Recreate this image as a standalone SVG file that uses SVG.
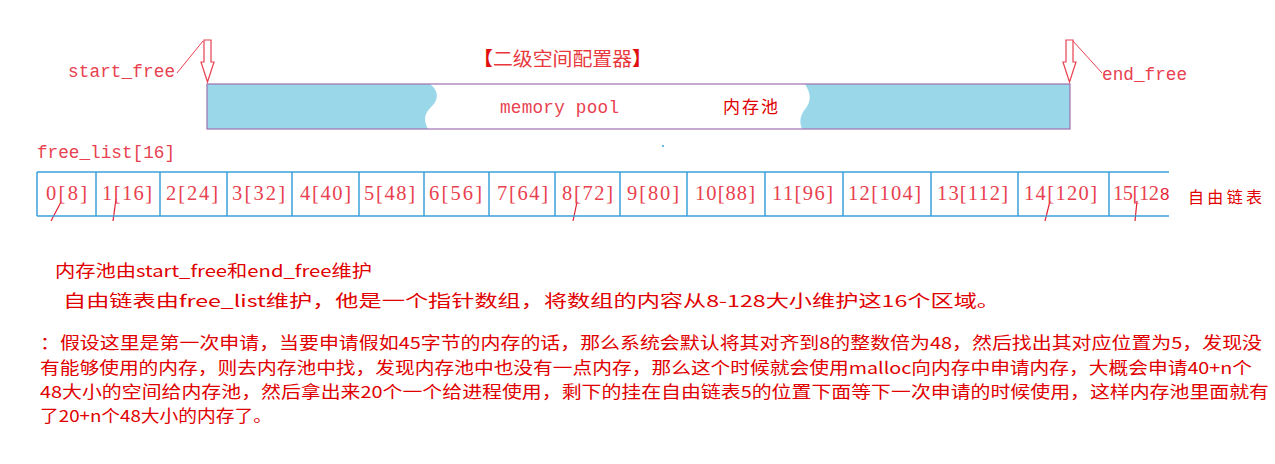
<svg xmlns="http://www.w3.org/2000/svg" width="1275" height="464" viewBox="0 0 1275 464">
<style>
.lbl{font-family:"Liberation Mono",monospace;font-size:17.7px;fill:#E8414F}
.cell{font-family:"Liberation Serif","Noto Sans CJK SC",serif;font-size:20.5px;fill:#E8414F}
.cjk{font-family:"Noto Sans CJK SC",sans-serif;fill:#E00000}
.para{font-family:"Noto Sans CJK SC",sans-serif;font-size:16.5px;fill:#E00000}
.arrow{fill:#fff;stroke:#E84050;stroke-width:1.2}
.lead{stroke:#E84050;stroke-width:1;fill:none}
.tick{stroke:#E02030;stroke-width:1.2}
.grid{stroke:#3AA0D8;stroke-width:1.5}
</style>
<rect width="1275" height="464" fill="#fff"/>

<g id="title">
<text x="473" y="66" font-family="Noto Sans CJK SC,sans-serif" font-size="19" fill="#E8383D" textLength="179" lengthAdjust="spacingAndGlyphs"><tspan font-weight="bold" fill="#E01010">【</tspan>二级空间配置器<tspan font-weight="bold" fill="#E01010">】</tspan></text>
</g>

<g id="memory-pool">
<rect x="207" y="84" width="863" height="45" fill="#9AD7E9"/>
<path d="M430,84 C438,90 439,98 433,105 C426,112 422,118 428,129 L802,129 C799,122 800,115 806,108 C812,100 810,92 805,84 Z" fill="#fff"/>
<rect x="207" y="84" width="863" height="45" fill="none" stroke="#A070B0" stroke-width="1.2"/>
<text x="500" y="113" class="lbl" font-size="18" textLength="119">memory pool</text>
<text x="723" y="113" class="cjk" font-size="17" fill="#D42020" textLength="55">内存池</text>
</g>

<g id="start-free">
<path class="arrow" d="M204,40 L211,40 L211,62 L214,62 L207.5,82 L201,62 L204,62 Z"/>
<text x="68" y="77" class="lbl" textLength="107">start_free</text>
</g>

<g id="end-free">
<path class="arrow" d="M1066,40 L1073,40 L1073,62 L1076,62 L1069.5,82 L1063,62 L1066,62 Z"/>
<text x="1102" y="80" class="lbl" textLength="85">end_free</text>
</g>

<g id="connectors">
<path class="lead" d="M177,73 L203,41"/>
<path class="lead" d="M1073,41 L1102,73"/>
<line class="tick" x1="61" y1="202" x2="51" y2="221"/>
<line class="tick" x1="116" y1="199" x2="113" y2="221"/>
<line class="tick" x1="577" y1="202" x2="573" y2="221"/>
<line class="tick" x1="1050" y1="201" x2="1045" y2="221"/>
<line class="tick" x1="1137" y1="201" x2="1135" y2="221"/>
</g>

<g id="free-list">
<text x="37" y="158" class="lbl" textLength="138">free_list[16]</text>
<line class="grid" x1="37" y1="172" x2="1169" y2="172"/>
<line class="grid" x1="37" y1="216" x2="1169" y2="216"/>
<g class="grid">
<line x1="37" y1="172" x2="37" y2="216"/>
<line x1="96" y1="172" x2="96" y2="216"/>
<line x1="160" y1="172" x2="160" y2="216"/>
<line x1="227" y1="172" x2="227" y2="216"/>
<line x1="292" y1="172" x2="292" y2="216"/>
<line x1="359" y1="172" x2="359" y2="216"/>
<line x1="424" y1="172" x2="424" y2="216"/>
<line x1="489" y1="172" x2="489" y2="216"/>
<line x1="555" y1="172" x2="555" y2="216"/>
<line x1="620" y1="172" x2="620" y2="216"/>
<line x1="687" y1="172" x2="687" y2="216"/>
<line x1="765" y1="172" x2="765" y2="216"/>
<line x1="843" y1="172" x2="843" y2="216"/>
<line x1="931" y1="172" x2="931" y2="216"/>
<line x1="1018" y1="172" x2="1018" y2="216"/>
<line x1="1109" y1="172" x2="1109" y2="216"/>
</g>
<text class="cell" x="46" y="200" textLength="41">0[8]</text>
<text class="cell" x="102" y="200" textLength="50">1[16]</text>
<text class="cell" x="166" y="200" textLength="52">2[24]</text>
<text class="cell" x="232" y="200" textLength="53">3[32]</text>
<text class="cell" x="300" y="200" textLength="51">4[40]</text>
<text class="cell" x="364" y="200" textLength="51">5[48]</text>
<text class="cell" x="429" y="200" textLength="53">6[56]</text>
<text class="cell" x="497" y="200" textLength="51">7[64]</text>
<text class="cell" x="562" y="200" textLength="51">8[72]</text>
<text class="cell" x="627" y="200" textLength="52">9[80]</text>
<text class="cell" x="695" y="200" textLength="60">10[88]</text>
<text class="cell" x="772" y="200" textLength="61">11[96]</text>
<text class="cell" x="848" y="200" textLength="73">12[104]</text>
<text class="cell" x="937" y="200" textLength="71">13[112]</text>
<text class="cell" x="1024" y="200" textLength="73">14[120]</text>
<text class="cell" x="1113" y="200" textLength="46">15[12</text>
<text x="1160" y="200" font-family="Liberation Sans,sans-serif" font-size="17" fill="#E8203A">8</text>
<text x="1188" y="203" class="cjk" font-size="16" fill="#D01010" textLength="74">自由链表</text>
<circle cx="663" cy="146" r="1" fill="#3AA0D8"/>
</g>

<g id="notes">
<text class="para" x="55" y="277" textLength="317" lengthAdjust="spacingAndGlyphs">内存池由start_free和end_free维护</text>
<text class="para" x="63" y="307" textLength="937" lengthAdjust="spacingAndGlyphs">自由链表由free_list维护，他是一个指针数组，将数组的内容从8-128大小维护这16个区域。</text>
<text class="para" x="40" y="349" textLength="1222" lengthAdjust="spacingAndGlyphs">：假设这里是第一次申请，当要申请假如45字节的内存的话，那么系统会默认将其对齐到8的整数倍为48，然后找出其对应位置为5，发现没</text>
<text class="para" x="40" y="374" textLength="1212" lengthAdjust="spacingAndGlyphs">有能够使用的内存，则去内存池中找，发现内存池中也没有一点内存，那么这个时候就会使用malloc向内存中申请内存，大概会申请40+n个</text>
<text class="para" x="40" y="398" textLength="1229" lengthAdjust="spacingAndGlyphs">48大小的空间给内存池，然后拿出来20个一个给进程使用，剩下的挂在自由链表5的位置下面等下一次申请的时候使用，这样内存池里面就有</text>
<text class="para" x="40" y="422" textLength="232" lengthAdjust="spacingAndGlyphs">了20+n个48大小的内存了。</text>
</g>
</svg>
